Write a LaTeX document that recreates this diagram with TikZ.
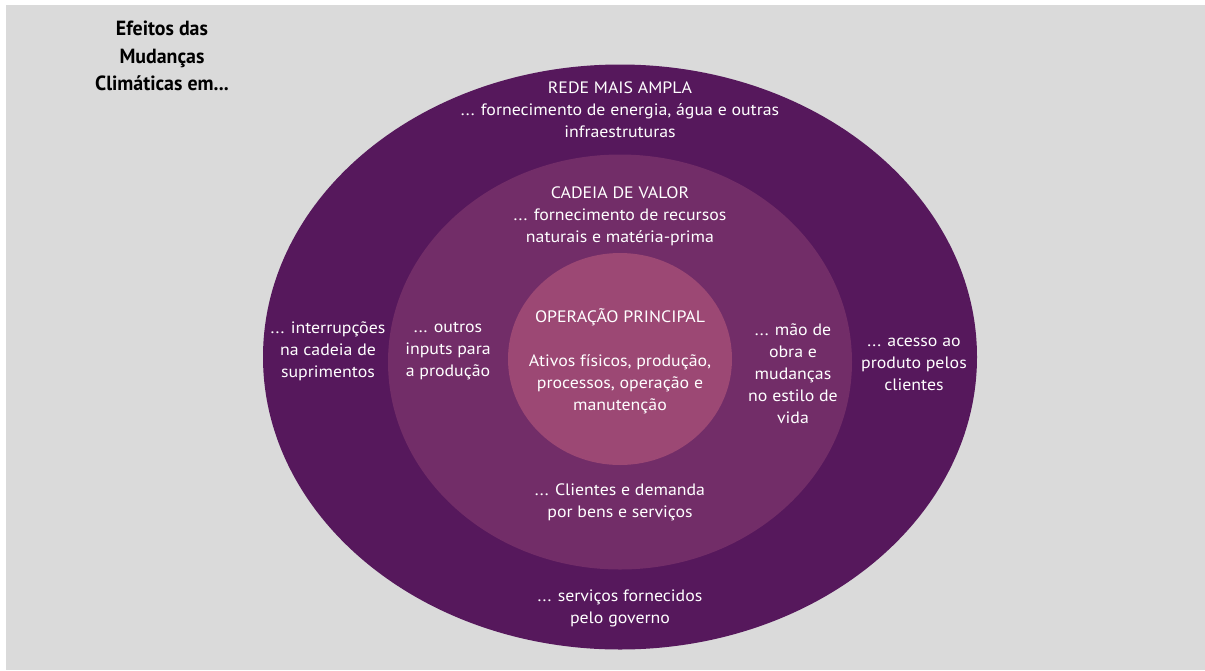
\documentclass[tikz,border=0pt]{standalone}
\usepackage{fontspec}
\setmainfont{PT Sans}[FakeStretch=1.08]
\newfontfamily\titlefont[FakeStretch=0.97]{PT Sans Bold}
\usetikzlibrary{shapes.geometric, positioning}

\definecolor{fundo}{HTML}{DADADA}
\definecolor{roxoescuro}{HTML}{56185C}
\definecolor{roxomedio}{HTML}{722D68}
\definecolor{roxoclaro}{HTML}{9C4874}

\tikzset{
  anel/.style={ellipse, inner sep=0pt},
  rotulo/.style={align=center, text=white, inner sep=0pt,
    font=\fontsize{16.5}{22}\selectfont},
}

\begin{document}
\begin{tikzpicture}[x=1pt, y=-1pt]
		
		\useasboundingbox (0,0) rectangle (1205,670);
		\fill[white] (0,0) rectangle (1205,670);
		\fill[fundo] (6,5) rectangle (1205,670);
		
		% aneis
		\node[anel, fill=roxoescuro, minimum width=714pt, minimum height=585pt] (rede) at (620,357) {};
		\node[anel, fill=roxomedio, minimum width=464pt, minimum height=415pt] (cadeia) at (620,362) {};
		\node[anel, fill=roxoclaro, minimum width=224pt, minimum height=212pt] (operacao) at (620,359) {};
		
		% titulo
		\node[align=center, inner sep=0pt, font=\titlefont\fontsize{20.5}{27.5}\selectfont] (titulo) at (162,56) {Efeitos das\\Mudanças\\Climáticas em...};
		
		% textos
		\node[rotulo] (redetxt) at (620,110) {REDE MAIS AMPLA\\... fornecimento de energia, água e outras\\infraestruturas};
		\node[rotulo] (cadeiatxt) at (620,216) {CADEIA DE VALOR\\... fornecimento de recursos\\naturais e matéria-prima};
		\node[rotulo] (opertit) at (620,317) {OPERAÇÃO PRINCIPAL};
		\node[rotulo] (opertxt) at (620,384) {Ativos físicos, produção,\\processos, operação e\\manutenção};
		\node[rotulo] (interrup) at (328,351) {... interrupções\\na cadeia de\\suprimentos};
		\node[rotulo] (inputs) at (448,351) {... outros\\inputs para\\a produção};
		\node[rotulo] (maodeobra) at (793,374) {... mão de\\obra e\\mudanças\\no estilo de\\vida};
		\node[rotulo] (acesso) at (914,364) {... acesso ao\\produto pelos\\clientes};
		\node[rotulo] (clientes) at (620,502) {... Clientes e demanda\\por bens e serviços};
		\node[rotulo] (governo) at (620,608) {... serviços fornecidos\\pelo governo};
		
		\end{tikzpicture}
\end{document}
